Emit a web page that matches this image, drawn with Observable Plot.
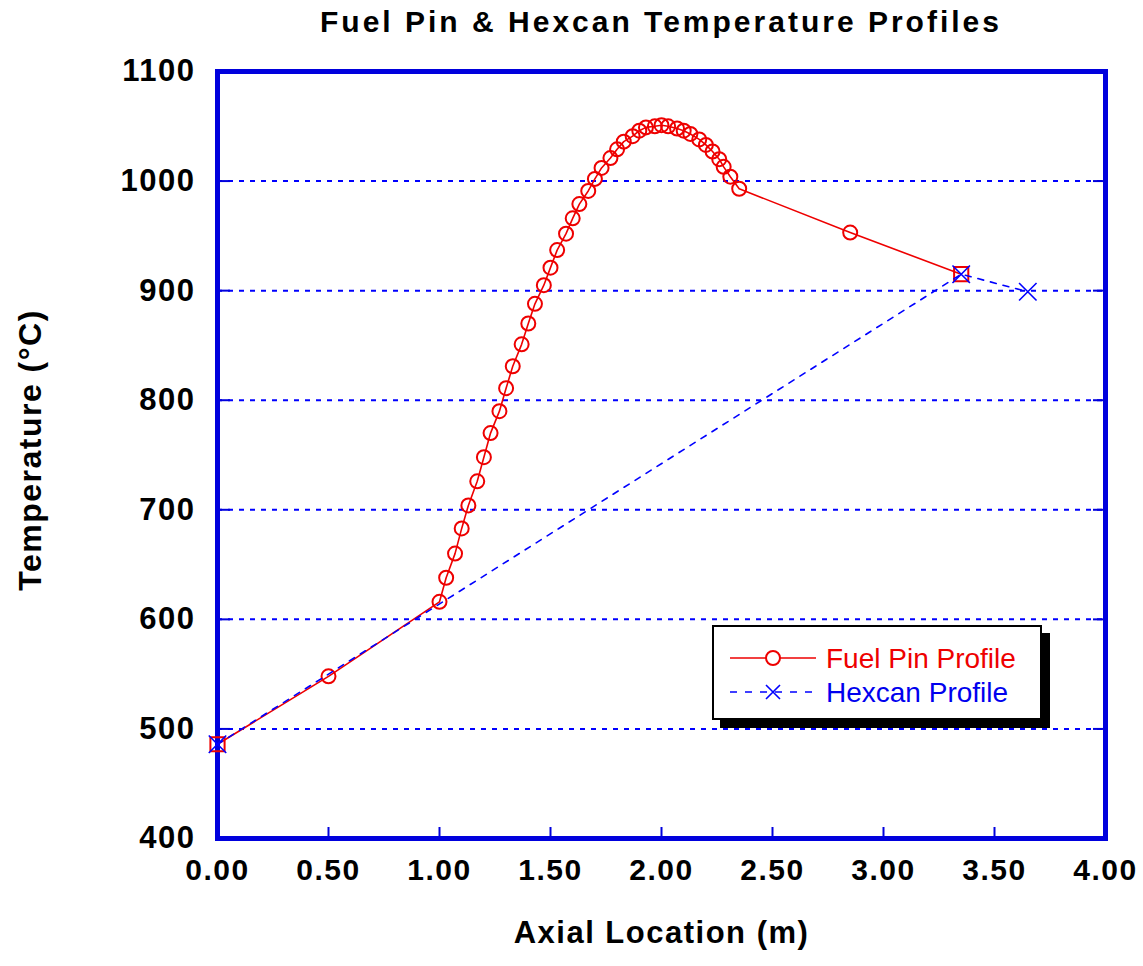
<!DOCTYPE html>
<html>
<head>
<meta charset="utf-8">
<script src="https://cdn.jsdelivr.net/npm/d3@7"></script>
<script src="https://cdn.jsdelivr.net/npm/@observablehq/plot@0.6"></script>
<style>
  body { margin: 0; background: #fff; font-family: "Liberation Sans", Arial, sans-serif; }
  #wrap { position: relative; width: 1143px; height: 966px; overflow: hidden; }
  #title { position: absolute; left: 217px; top: 0; width: 888px; height: 44px; text-align: center;
           font-size: 30px; font-weight: bold; letter-spacing: 3px; line-height: 44px; color: #000; }
  #chart { position: absolute; left: 0; top: 44px; }
  .fuelplot text { letter-spacing: 1.5px; }
  #legend { position: absolute; left: 712px; top: 625px; width: 326px; height: 91px;
            border: 2px solid #000; background: #fff; box-shadow: 8px 8px 0 #000; }
  #legend svg { position: absolute; left: 0; top: 0; }
</style>
</head>
<body>
<div id="wrap">
  <div id="title">Fuel Pin &amp; Hexcan Temperature Profiles</div>
  <div id="chart"></div>
  <div id="legend"></div>
</div>
<script>
// ---- data ----
const fuelX = [0, 0.5, 1.0, 1.03, 1.07, 1.10, 1.13, 1.17, 1.20, 1.23, 1.27, 1.30, 1.33, 1.37, 1.40, 1.43, 1.47, 1.50, 1.53, 1.57, 1.60, 1.63, 1.67, 1.70, 1.73, 1.77, 1.80, 1.83, 1.87, 1.90, 1.93, 1.97, 2.00, 2.03, 2.07, 2.10, 2.13, 2.17, 2.20, 2.23, 2.26, 2.28, 2.31, 2.35, 2.85, 3.35];
const fuelT = [486, 548, 616, 638, 660, 683, 704, 726, 748, 770, 790, 811, 831, 851, 870, 888, 905, 921, 937, 952, 966, 979, 991, 1002, 1012, 1021, 1029, 1036, 1041, 1046, 1049, 1050, 1051, 1050, 1048, 1046, 1043, 1038, 1033, 1027, 1020, 1013, 1004, 993, 953, 915];
const hexX = [0, 3.35, 3.65];
const hexT = [486, 915, 899];
const xTicks = [0, 0.5, 1, 1.5, 2, 2.5, 3, 3.5, 4];
const yTicks = [400, 500, 600, 700, 800, 900, 1000, 1100];
const xInnerTicks = [0.5, 1, 1.5, 2, 2.5, 3, 3.5];
const yInnerTicks = [500, 600, 700, 800, 900, 1000];
const seriesNames = ["Fuel Pin Profile", "Hexcan Profile"];
const xTitle = "Axial Location (m)";
const yTitle = "Temperature (°C)";

const fuel = fuelX.map((x, i) => ({x, t: fuelT[i]}));
const hex = hexX.map((x, i) => ({x, t: hexT[i]}));

const RED = "#ee0000";
const BLUE = "#0000ff";
const FRAME = "#0000dd";
const font = "'Liberation Sans', Arial, sans-serif";

const chart = Plot.plot({
  width: 1143,
  height: 922,
  marginLeft: 217,
  marginRight: 38,
  marginTop: 27,
  marginBottom: 128,
  className: "fuelplot",
  style: {fontFamily: font, background: "transparent", overflow: "visible"},
  x: {domain: [0, 4]},
  y: {domain: [400, 1100]},
  marks: [
    Plot.gridY(yInnerTicks, {stroke: BLUE, strokeOpacity: 1, strokeWidth: 2, strokeDasharray: "5,6"}),
    Plot.axisY(yTicks, {anchor: "left", tickSize: 0, tickPadding: 22, tickFormat: d => String(d), fontSize: 31, fontWeight: "bold", fill: "#000", label: null}),
    Plot.axisX(xTicks, {anchor: "bottom", tickSize: 0, tickPadding: 20, tickFormat: d3.format(".2f"), fontSize: 30, fontWeight: "bold", fill: "#000", label: null}),
    Plot.axisY(yInnerTicks, {anchor: "right", frameAnchor: "left", tickSize: 12, fill: "none", stroke: FRAME, strokeWidth: 2, label: null}),
    Plot.axisY(yInnerTicks, {anchor: "left", frameAnchor: "right", tickSize: 12, fill: "none", stroke: FRAME, strokeWidth: 2, label: null}),
    Plot.axisX(xInnerTicks, {anchor: "top", frameAnchor: "bottom", tickSize: 12, fill: "none", stroke: FRAME, strokeWidth: 2, label: null}),
    Plot.frame({stroke: FRAME, strokeWidth: 5}),
    Plot.text([xTitle], {frameAnchor: "bottom", dy: 104, fontSize: 31, fontWeight: "bold", fill: "#000"}),
    Plot.text([yTitle], {frameAnchor: "left", textAnchor: "middle", dx: -187, dy: -5, rotate: -90, fontSize: 32, fontWeight: "bold", fill: "#000"}),
    // Fuel pin profile
    Plot.line(fuel, {x: "x", y: "t", stroke: RED, strokeWidth: 1.6}),
    Plot.dot(fuel, {x: "x", y: "t", r: 7, stroke: RED, strokeWidth: 2, fill: "none",
      filter: (d, i) => i !== 0 && i !== fuel.length - 1}),
    Plot.dot(fuel, {x: "x", y: "t", r: 8, symbol: "square", stroke: RED, strokeWidth: 2, fill: "none",
      filter: (d, i) => i === 0 || i === fuel.length - 1}),
    // Hexcan profile
    Plot.line(hex, {x: "x", y: "t", stroke: BLUE, strokeWidth: 1.6, strokeDasharray: "6,7"}),
    Plot.dot(hex, {x: "x", y: "t", r: 8, symbol: "times", stroke: BLUE, strokeWidth: 1.6})
  ]
});
document.getElementById("chart").appendChild(chart);

// ---- legend ----
const lg = d3.select("#legend").append("svg").attr("width", 326).attr("height", 91)
  .style("font-family", font);
// row 1
lg.append("line").attr("x1", 16).attr("x2", 102).attr("y1", 31).attr("y2", 31)
  .attr("stroke", RED).attr("stroke-width", 1.6);
lg.append("circle").attr("cx", 59).attr("cy", 31).attr("r", 7)
  .attr("fill", "white").attr("stroke", RED).attr("stroke-width", 2);
lg.append("text").attr("x", 112).attr("y", 41).attr("font-size", 28).attr("fill", RED)
  .text(seriesNames[0]);
// row 2
lg.append("line").attr("x1", 16).attr("x2", 102).attr("y1", 65).attr("y2", 65)
  .attr("stroke", BLUE).attr("stroke-width", 1.6).attr("stroke-dasharray", "7,8");
lg.append("path").attr("d", "M52,58L66,72M66,58L52,72")
  .attr("stroke", BLUE).attr("stroke-width", 1.6);
lg.append("text").attr("x", 112).attr("y", 75).attr("font-size", 28).attr("fill", "#0000ee")
  .text(seriesNames[1]);
</script>
</body>
</html>
